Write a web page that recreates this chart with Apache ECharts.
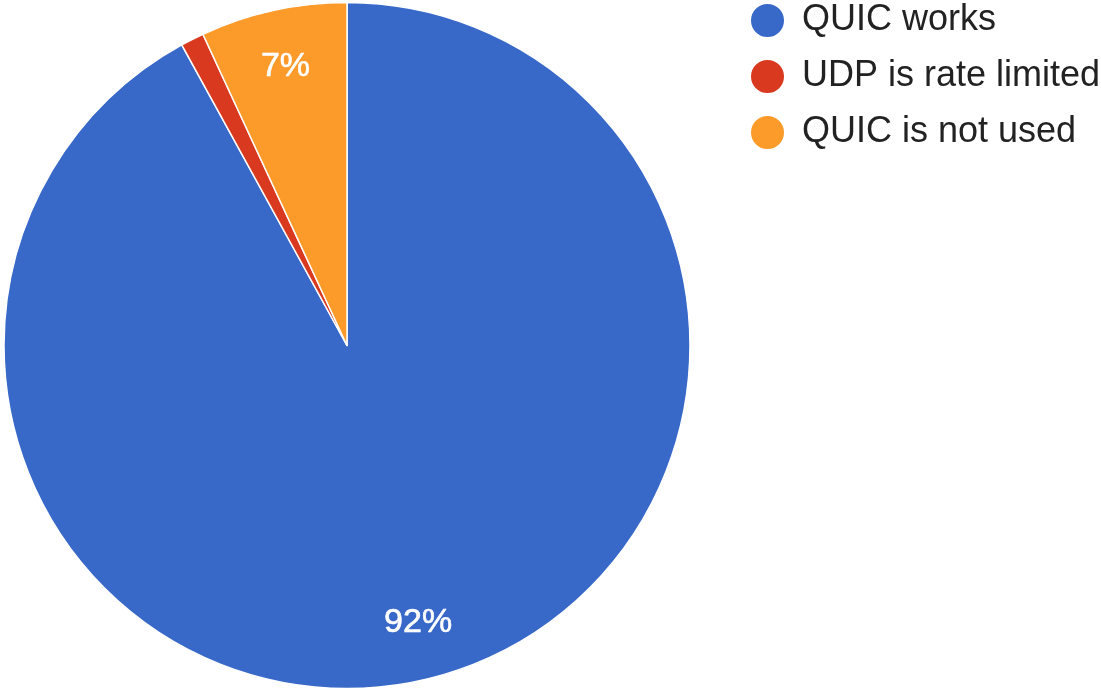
<!DOCTYPE html>
<html>
<head>
<meta charset="utf-8">
<title>QUIC</title>
<script src="https://cdn.jsdelivr.net/npm/echarts@6/dist/echarts.min.js"></script>
<style>
  html, body { margin: 0; padding: 0; background: #fff; }
  #chart { width: 1101px; height: 692px; }
</style>
</head>
<body>
<div id="chart"></div>
<script>
// slices, clockwise from 12 o'clock
var categories = ['QUIC works', 'UDP is rate limited', 'QUIC is not used'];
var shares = [92.0, 1.1, 6.9];
var colors = ['#3869c9', '#d93a1f', '#fc9a2a'];
var hideLabel = [false, true, false]; // slice too thin for text

var chart = echarts.init(document.getElementById('chart'));

var pieData = categories.map(function (name, i) {
  return { name: name, value: shares[i], itemStyle: { color: colors[i] } };
});
var labelData = categories.map(function (name, i) {
  return { name: name, value: shares[i], label: { show: !hideLabel[i] } };
});

var R = 343;
var center = [347, 345.5];

chart.setOption({
  backgroundColor: '#fff',
  animation: false,
  legend: {
    data: categories,
    orient: 'vertical',
    left: 749,
    top: 2,
    padding: 0,
    icon: 'circle',
    itemWidth: 35,
    itemHeight: 35,
    itemGap: 19,
    textStyle: {
      fontFamily: 'Liberation Sans, Arial, sans-serif',
      fontSize: 36,
      color: '#222',
      padding: [0, 0, 0, 12]
    }
  },
  series: [
    {
      type: 'pie',
      center: center,
      radius: [0, R],
      startAngle: 90,
      clockwise: true,
      silent: true,
      label: { show: false },
      labelLine: { show: false },
      itemStyle: { borderColor: '#fff', borderWidth: 1.5 },
      data: pieData
    },
    {
      // transparent ring used only to place the percent text at ~0.82 r
      type: 'pie',
      center: center,
      radius: [R * 0.65, R],
      startAngle: 90,
      clockwise: true,
      silent: true,
      legendHoverLink: false,
      itemStyle: { color: 'rgba(0,0,0,0)', borderWidth: 0 },
      labelLine: { show: false },
      label: {
        show: true,
        position: 'inside',
        fontFamily: 'Liberation Sans, Arial, sans-serif',
        fontSize: 34,
        color: '#fff',
        textBorderColor: '#fff',
        textBorderWidth: 0.6,
        formatter: function (p) { return Math.round(p.percent) + '%'; }
      },
      data: labelData
    }
  ]
});
</script>
</body>
</html>
